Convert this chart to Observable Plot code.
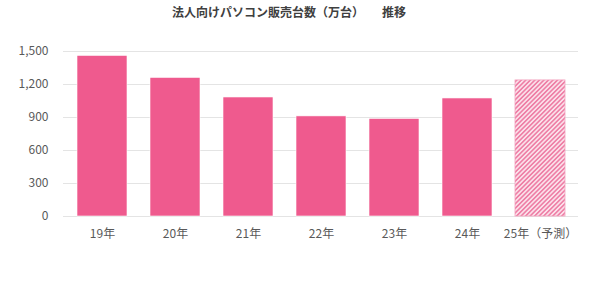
<!DOCTYPE html>
<html>
<head>
<meta charset="utf-8">
<script src="https://cdn.jsdelivr.net/npm/d3@7"></script>
<script src="https://cdn.jsdelivr.net/npm/@observablehq/plot@0.6"></script>
<style>
  body { margin: 0; background: #fff; font-family: "Noto Sans CJK JP", sans-serif; }
  #wrap { position: relative; width: 600px; height: 294px; }
  #title { position: absolute; top: 3px; left: 0; width: 578px; text-align: center; font-size: 12px; font-weight: bold; color: #404040; line-height: 18px; white-space: pre; }
  #chart { position: absolute; top: 30px; left: 0; }
</style>
</head>
<body>
<div id="wrap">
  <div id="title">法人向けパソコン販売台数（万台）　　推移</div>
  <div id="chart"></div>
</div>
<script>
const categories = ["19年", "20年", "21年", "22年", "23年", "24年", "25年（予測）"];
const values = [1460, 1260, 1082, 910, 887, 1073, 1237];
const forecast = [false, false, false, false, false, false, true];
const yTicks = [0, 300, 600, 900, 1200, 1500];

const data = categories.map((c, i) => ({cat: c, value: values[i], forecast: forecast[i]}));

const plot = Plot.plot({
  width: 600,
  height: 264,
  marginLeft: 63,
  marginRight: 22,
  marginTop: 21,
  marginBottom: 78,
  style: {fontFamily: "'Noto Sans CJK JP', sans-serif", fontSize: "12px", color: "#595959", background: "#fff"},
  x: {domain: categories, paddingInner: 0.32, paddingOuter: 0.16, label: null},
  y: {domain: [0, 1500], label: null},
  marks: [
    Plot.gridY(yTicks, {stroke: "#e4e4e4", strokeOpacity: 1, strokeWidth: 1}),
    Plot.axisY(yTicks, {tickSize: 0, tickPadding: 15, tickFormat: d3.format(","), fill: "#595959", fontSize: 12}),
    Plot.axisX({tickSize: 0, tickPadding: 13, fill: "#595959", fontSize: 12}),
    Plot.barY(data.filter(d => !d.forecast), {x: "cat", y: "value", fill: "#EF5A8E", stroke: "#fff", strokeWidth: 0.6}),
    Plot.barY(data.filter(d => d.forecast), {x: "cat", y: "value", fill: "url(#hatch)", stroke: "#F2A3BE", strokeWidth: 0.8})
  ]
});

const svg = d3.select(plot);
const defs = svg.insert("defs", ":first-child");
const pat = defs.append("pattern")
  .attr("id", "hatch")
  .attr("patternUnits", "userSpaceOnUse")
  .attr("width", 3.2).attr("height", 3.2)
  .attr("patternTransform", "rotate(45)");
pat.append("rect").attr("width", 3.2).attr("height", 3.2).attr("fill", "#fbe0ea");
pat.append("rect").attr("width", 1.6).attr("height", 3.2).attr("fill", "#EE7FA6");

document.getElementById("chart").appendChild(plot);
</script>
</body>
</html>
